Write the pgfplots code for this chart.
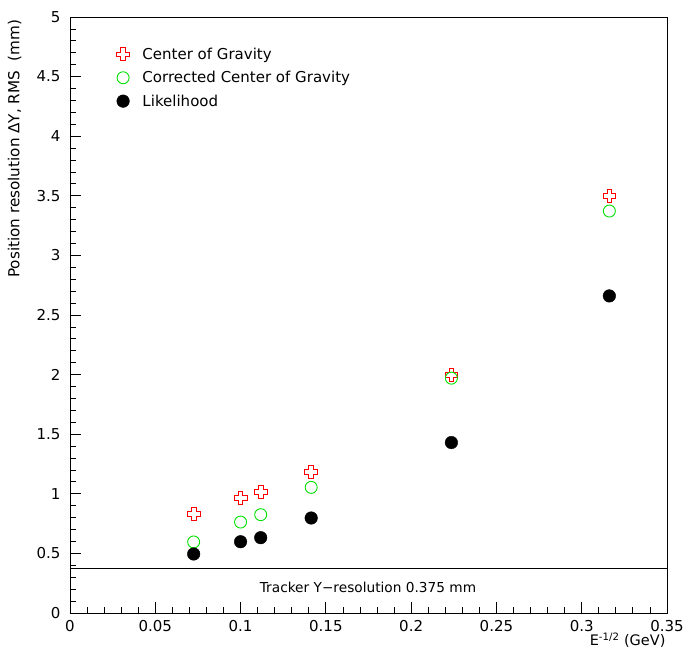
\documentclass[border=0pt]{standalone}
\usepackage{fontspec}
\setmainfont{DejaVu Sans}
\usepackage{pgfplots}
\pgfplotsset{compat=1.18}
\definecolor{CG}{HTML}{FF0000}
\definecolor{CCG}{HTML}{00E000}

% hollow plus marker
\pgfdeclareplotmark{hplus}{%
  \pgfpathmoveto{\pgfqpoint{-0.36\pgfplotmarksize}{\pgfplotmarksize}}%
  \pgfpathlineto{\pgfqpoint{0.36\pgfplotmarksize}{\pgfplotmarksize}}%
  \pgfpathlineto{\pgfqpoint{0.36\pgfplotmarksize}{0.36\pgfplotmarksize}}%
  \pgfpathlineto{\pgfqpoint{\pgfplotmarksize}{0.36\pgfplotmarksize}}%
  \pgfpathlineto{\pgfqpoint{\pgfplotmarksize}{-0.36\pgfplotmarksize}}%
  \pgfpathlineto{\pgfqpoint{0.36\pgfplotmarksize}{-0.36\pgfplotmarksize}}%
  \pgfpathlineto{\pgfqpoint{0.36\pgfplotmarksize}{-\pgfplotmarksize}}%
  \pgfpathlineto{\pgfqpoint{-0.36\pgfplotmarksize}{-\pgfplotmarksize}}%
  \pgfpathlineto{\pgfqpoint{-0.36\pgfplotmarksize}{-0.36\pgfplotmarksize}}%
  \pgfpathlineto{\pgfqpoint{-\pgfplotmarksize}{-0.36\pgfplotmarksize}}%
  \pgfpathlineto{\pgfqpoint{-\pgfplotmarksize}{0.36\pgfplotmarksize}}%
  \pgfpathlineto{\pgfqpoint{-0.36\pgfplotmarksize}{0.36\pgfplotmarksize}}%
  \pgfpathclose
  \pgfusepathqstroke
}

\begin{document}
\begin{tikzpicture}
\begin{axis}[
  name=ax,
  scale only axis,
  width=597pt, height=596pt,
  xmin=0, xmax=0.35, ymin=0, ymax=5,
  xtick={0,0.05,0.1,0.15,0.2,0.25,0.3,0.35},
  xticklabels={0,0.05,0.1,0.15,0.2,0.25,0.3,0.35},
  ytick={0,0.5,1,1.5,2,2.5,3,3.5,4,4.5,5},
  yticklabels={0,0.5,1,1.5,2,2.5,3,3.5,4,4.5,5},
  minor x tick num=4, minor y tick num=4,
  xtick pos=bottom, ytick pos=left,
  tick align=inside,
  major tick length=11pt, minor tick length=6pt,
  tick style={black, line width=0.8pt},
  axis line style={line width=0.9pt},
  tick label style={font=\fontsize{15}{18}\selectfont},
  xticklabel style={yshift=-4pt},
  yticklabel style={xshift=-6pt},
  ylabel={Position resolution ΔY, RMS\ \ (mm)},
  ylabel style={font=\fontsize{15.2}{18}\selectfont, at={(rel axis cs:0,0.779)}, anchor=south, yshift=45pt},
  xlabel={E\textsuperscript{-1/2} (GeV)},
  xlabel style={font=\fontsize{14.5}{17}\selectfont, at={(rel axis cs:1,0)}, anchor=north east, yshift=-16pt, xshift=2pt},
  legend cell align=left,
  legend style={draw=none, fill=none, at={(axis cs:0.0255,4.776)}, anchor=north west,
    font=\fontsize{15}{18}\selectfont, row sep=6.5pt, column sep=11pt},
  legend image code/.code={\draw[#1] plot coordinates {(0.3cm,0cm)};},
]
\addplot[only marks, color=CG, mark=hplus, mark size=6.4pt, mark options={draw=CG, fill=none}, line width=0.9pt] coordinates {
(0.0725,0.83) (0.1,0.965) (0.1118,1.018) (0.1414,1.183) (0.2236,1.995) (0.3162,3.498)
};
\addlegendentry{Center of Gravity}
\addplot[only marks, color=CCG, mark=o, mark size=6pt, mark options={draw=CCG, fill=none}, line width=0.9pt] coordinates {
(0.0725,0.596) (0.1,0.763) (0.1118,0.825) (0.1414,1.054) (0.2236,1.97) (0.3162,3.372)
};
\addlegendentry{Corrected Center of Gravity}
\addplot[only marks, color=black, mark=*, mark size=6.3pt, mark options={draw=black, fill=black}] coordinates {
(0.0725,0.495) (0.1,0.598) (0.1118,0.632) (0.1414,0.797) (0.2236,1.43) (0.3162,2.66)
};
\addlegendentry{Likelihood}
\addplot[black, line width=0.9pt, forget plot] coordinates {(0,0.375) (0.35,0.375)};
\node[font=\fontsize{13.7}{16}\selectfont] at (axis cs:0.1747,0.215) {Tracker Y−resolution 0.375 mm};
\end{axis}
\pgfresetboundingbox
\path[use as bounding box] ([shift={(-70pt,-49pt)}]ax.south west) rectangle ([shift={(22pt,17pt)}]ax.north east);
\end{tikzpicture}
\end{document}
